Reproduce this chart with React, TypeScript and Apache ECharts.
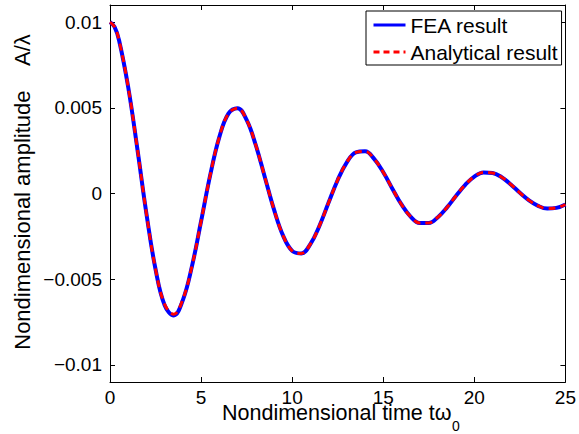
import React, { useEffect, useRef } from "react";
import * as echarts from "echarts";

const tValues: number[] = [
  0, 0.25, 0.5, 1, 1.5, 2, 2.5, 3, 3.5, 4, 4.5, 5, 5.5, 6, 6.5, 7, 7.5, 8, 8.5, 9, 9.5,
  10, 10.5, 11, 11.5, 12, 12.5, 13, 13.5, 14, 14.5, 15, 15.5, 16, 16.5, 17, 17.5,
  18, 18.5, 19, 19.5, 20, 20.5, 21, 21.5, 22, 22.5, 23, 23.5, 24, 24.5, 25,
];

const feaValues: number[] = [
  0.01, 0.00972, 0.00893, 0.0062, 0.00262, -0.00118, -0.00442, -0.00652, -0.00712, -0.00622,
  -0.00424, -0.00162, 0.00107, 0.00329, 0.00466, 0.00498, 0.00429, 0.00283,
  0.00095, -0.00093, -0.00246, -0.00335, -0.0035, -0.00295, -0.00188, -0.00053,
  0.00079, 0.00182, 0.0024, 0.00246, 0.00202, 0.00124, 0.00028, -0.00064,
  -0.00135, -0.00172, -0.00172, -0.00138, -0.00081, -0.00013, 0.00051, 0.00099,
  0.00123, 0.0012, 0.00095, 0.00053, 0.00004, -0.0004, -0.00072, -0.00088,
  -0.00084, -0.00064,
];

const analyticalValues: number[] = [
  0.01, 0.00972, 0.00893, 0.0062, 0.00262, -0.00118, -0.00442, -0.00647, -0.00704, -0.00617,
  -0.00424, -0.00162, 0.00107, 0.00329, 0.00466, 0.00498, 0.00429, 0.00283,
  0.00095, -0.00093, -0.00246, -0.00335, -0.0035, -0.00295, -0.00188, -0.00053,
  0.00079, 0.00182, 0.0024, 0.00246, 0.00202, 0.00124, 0.00028, -0.00064,
  -0.00135, -0.00172, -0.00172, -0.00138, -0.00081, -0.00013, 0.00051, 0.00099,
  0.00123, 0.0012, 0.00095, 0.00053, 0.00004, -0.0004, -0.00072, -0.00088,
  -0.00084, -0.00064,
];

const xTicks: number[] = [0, 5, 10, 15, 20, 25];
const xTickLabels: string[] = ["0", "5", "10", "15", "20", "25"];
const yTicks: number[] = [-0.01, -0.005, 0, 0.005, 0.01];
const yTickLabels: string[] = ["\u22120.01", "\u22120.005", "0", "0.005", "0.01"];

const seriesNames: string[] = ["FEA result", "Analytical result"];
const xTitle = "Nondimensional time t\u03c9";
const xTitleSub = "0";
const yTitle = "Nondimensional amplitude\u00a0\u00a0\u00a0\u00a0A/\u03bb";

const FONT = "'Liberation Sans', Arial, Helvetica, sans-serif";

export default function App() {
  const ref = useRef<HTMLDivElement>(null);

  useEffect(() => {
    if (!ref.current) return;
    const chart = echarts.init(ref.current, undefined, { renderer: "svg" });

    const xLabelFmt = (v: number) => {
      const i = xTicks.findIndex((t) => Math.abs(t - v) < 1e-9);
      return i >= 0 ? xTickLabels[i] : "";
    };
    const yLabelFmt = (v: number) => {
      const i = yTicks.findIndex((t) => Math.abs(t - v) < 1e-9);
      return i >= 0 ? yTickLabels[i] : "";
    };

    const axisLine = { show: true, onZero: false, lineStyle: { color: "#000", width: 1 } };
    const tick = { show: true, inside: true, length: 5, lineStyle: { color: "#000", width: 1 } };
    const hiddenIcon = { color: "transparent", opacity: 0, borderWidth: 0 };

    chart.setOption({
      animation: false,
      backgroundColor: "#fff",
      grid: { left: 110, right: 12, top: 5, bottom: 52, containLabel: false },
      xAxis: [
        {
          type: "value",
          min: 0,
          max: 25,
          position: "bottom",
          axisLine,
          axisTick: { ...tick, customValues: xTicks },
          axisLabel: {
            customValues: xTicks,
            formatter: xLabelFmt,
            color: "#000",
            fontSize: 19,
            fontFamily: FONT,
            margin: 6,
          },
          splitLine: { show: false },
        },
        {
          type: "value",
          min: 0,
          max: 25,
          position: "top",
          axisLine,
          axisTick: { ...tick, customValues: xTicks },
          axisLabel: { show: false },
          splitLine: { show: false },
        },
      ],
      yAxis: [
        {
          type: "value",
          min: -0.011,
          max: 0.011,
          position: "left",
          axisLine,
          axisTick: { ...tick, customValues: yTicks },
          axisLabel: {
            customValues: yTicks,
            formatter: yLabelFmt,
            color: "#000",
            fontSize: 19,
            fontFamily: FONT,
            margin: 8,
          },
          splitLine: { show: false },
        },
        {
          type: "value",
          min: -0.011,
          max: 0.011,
          position: "right",
          axisLine,
          axisTick: { ...tick, customValues: yTicks },
          axisLabel: { show: false },
          splitLine: { show: false },
        },
      ],
      legend: {
        orient: "vertical",
        left: 366,
        top: 11,
        backgroundColor: "#fff",
        borderColor: "#000",
        borderWidth: 1,
        borderRadius: 0,
        padding: [3, 4, 2, 6],
        itemWidth: 32,
        itemHeight: 14,
        itemGap: 5,
        itemStyle: hiddenIcon,
        textStyle: { color: "#000", fontSize: 21, fontFamily: FONT, lineHeight: 22 },
        data: [
          {
            name: seriesNames[0],
            itemStyle: hiddenIcon,
            lineStyle: { width: 3, color: "#0000ff", type: "solid" },
          },
          {
            name: seriesNames[1],
            itemStyle: hiddenIcon,
            lineStyle: { width: 3, color: "#ff0000", type: [6, 4] },
          },
        ],
      },
      series: [
        {
          name: seriesNames[0],
          type: "line",
          data: tValues.map((t, i) => [t, feaValues[i]]),
          smooth: 0.4,
          symbol: "none",
          showSymbol: false,
          lineStyle: { color: "#0000ff", width: 4 },
          itemStyle: { color: "#0000ff" },
          z: 2,
        },
        {
          name: seriesNames[1],
          type: "line",
          data: tValues.map((t, i) => [t, analyticalValues[i]]),
          smooth: 0.4,
          symbol: "none",
          showSymbol: false,
          lineStyle: { color: "#ff0000", width: 3, type: [7, 5] },
          itemStyle: { color: "#ff0000" },
          z: 3,
        },
      ],
      graphic: [
        {
          type: "text",
          left: 222,
          top: 402,
          style: { text: xTitle, fill: "#000", fontSize: 21.5, fontFamily: FONT },
        },
        {
          type: "text",
          left: 452,
          top: 419,
          style: { text: xTitleSub, fill: "#000", fontSize: 14, fontFamily: FONT },
        },
        {
          type: "text",
          x: 22,
          y: 192,
          rotation: Math.PI / 2,
          style: {
            text: yTitle,
            fill: "#000",
            fontSize: 22,
            fontFamily: FONT,
            align: "center",
            verticalAlign: "middle",
          },
        },
      ],
    });

    return () => chart.dispose();
  }, []);

  return (
    <div
      ref={ref}
      style={{ position: "fixed", left: 0, top: 0, width: 579, height: 434, background: "#fff" }}
    />
  );
}
